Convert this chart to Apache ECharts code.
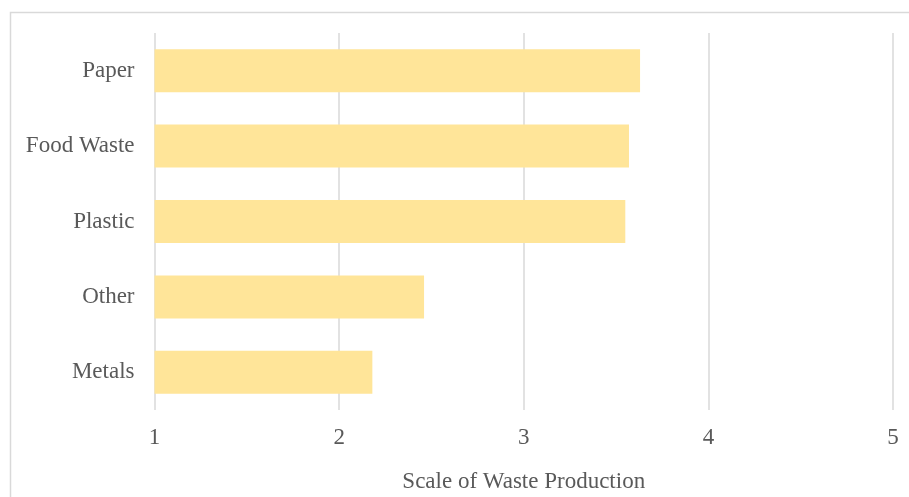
<!DOCTYPE html>
<html>
<head>
<meta charset="utf-8">
<style>
  html, body { margin: 0; padding: 0; background: #ffffff; }
  #chart { width: 909px; height: 497px; }
</style>
<script src="https://cdn.jsdelivr.net/npm/echarts@6/dist/echarts.min.js"></script>
</head>
<body>
<div id="chart"></div>
<script>
// Waste categories, listed bottom to top as the category axis draws them
const categories = ['Metals', 'Other', 'Plastic', 'Food Waste', 'Paper'];
const scaleValues = [2.18, 2.46, 3.55, 3.57, 3.63];
const axisTitle = 'Scale of Waste Production';

const textColor = '#595959';
const fontFamily = '"Liberation Serif", "Times New Roman", serif';

const chart = echarts.init(document.getElementById('chart'), null, { renderer: 'canvas' });

chart.setOption({
  animation: false,
  backgroundColor: '#ffffff',
  graphic: [{
    type: 'rect',
    shape: { x: 10.5, y: 12.5, width: 910, height: 500 },
    style: { fill: 'none', stroke: '#d9d9d9', lineWidth: 1.5 },
    silent: true
  }],
  grid: { left: 154.5, right: 16, top: 33, bottom: 87, outerBoundsMode: 'none', containLabel: false },
  xAxis: {
    type: 'value',
    min: 1,
    max: 5,
    interval: 1,
    name: axisTitle,
    nameLocation: 'middle',
    nameGap: 60,
    nameTextStyle: { color: textColor, fontFamily: fontFamily, fontSize: 23 },
    axisLine: { show: false },
    axisTick: { show: false },
    axisLabel: { color: textColor, fontFamily: fontFamily, fontSize: 23, margin: 16 },
    splitLine: { show: true, lineStyle: { color: '#d9d9d9', width: 1.5 } }
  },
  yAxis: {
    type: 'category',
    data: categories,
    axisLine: { show: false },
    axisTick: { show: false },
    axisLabel: { color: textColor, fontFamily: fontFamily, fontSize: 23, margin: 20 }
  },
  series: [{
    type: 'bar',
    data: scaleValues,
    barWidth: '57%',
    itemStyle: { color: '#ffe599' }
  }]
});
</script>
</body>
</html>
